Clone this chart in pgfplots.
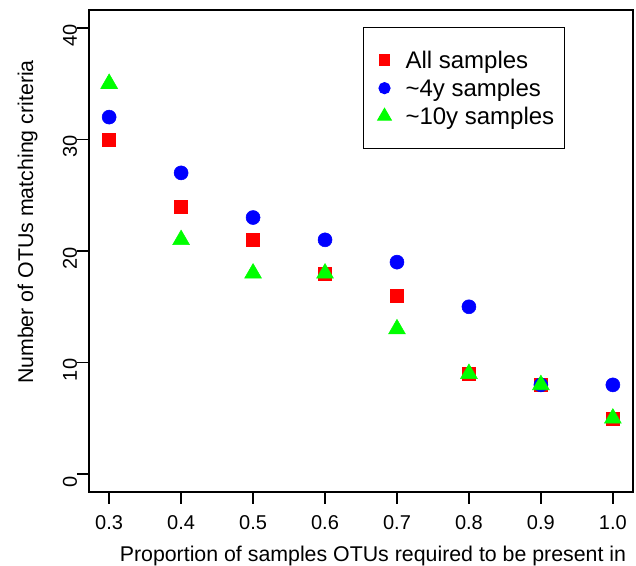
\documentclass[border=0pt]{standalone}
\usepackage{fontspec}
\setmainfont{Liberation Sans}
\usepackage{pgfplots}
\pgfplotsset{compat=1.18}
\usetikzlibrary{calc}
\definecolor{rgreen}{RGB}{0,255,0}
\definecolor{rred}{RGB}{255,0,0}
\definecolor{rblue}{RGB}{0,0,255}
\begin{document}
\begin{tikzpicture}
\begin{axis}[
  name=ax, at={(0,0)}, anchor=south west,
  scale only axis, width=408pt, height=361.5pt,
  xmin=0.272, xmax=1.028, ymin=-1.6, ymax=41.6,
  xtick={0.3,0.4,0.5,0.6,0.7,0.8,0.9,1.0},
  xticklabels={0.3,0.4,0.5,0.6,0.7,0.8,0.9,1.0},
  ytick={0,10,20,30,40}, yticklabels={0,10,20,30,40},
  tick align=outside, major tick length=9pt,
  xtick pos=bottom, ytick pos=left,
  axis line style={line width=1.1pt},
  every tick/.style={black, line width=1.1pt},
  tick label style={font=\fontsize{15}{18}\selectfont},
  yticklabel style={rotate=90, anchor=base, xshift=-5.5pt},
  xticklabel style={anchor=north, yshift=-5pt},
  xlabel={Proportion of samples OTUs required to be present in},
  ylabel={Number of OTUs matching criteria},
  label style={font=\fontsize{16}{19}\selectfont},
  xlabel style={at={(axis description cs:0.522,-0.1444)}, anchor=base},
  ylabel style={at={(axis description cs:-0.1029,0.560)}, anchor=base},
  legend style={at={(0.5037,0.9647)}, anchor=north west, draw=black, line width=0.75pt,
    font=\fontsize{18}{21}\selectfont, inner xsep=7.75pt, inner ysep=14pt,
    row sep=0pt, column sep=7.75pt, cells={anchor=west},
    nodes={inner sep=0pt, text height=16.9pt, text depth=4.1pt}},
  legend image code/.code={\path[draw=none, fill=none] (-8pt,-4pt) rectangle (8pt,4pt);
    \draw[#1, every mark/.append style={scale=0.8}] plot coordinates {(0pt,0pt)};},
]
\addplot[only marks, mark=square*, mark size=4.9pt, color=rred]
  coordinates {(0.3,30) (0.4,24) (0.5,21) (0.6,18) (0.7,16) (0.8,9) (0.9,8) (1.0,5)};
\addplot[only marks, mark=*, mark size=5.25pt, color=rblue]
  coordinates {(0.3,32) (0.4,27) (0.5,23) (0.6,21) (0.7,19) (0.8,15) (0.9,8) (1.0,8)};
\addplot[only marks, mark=triangle*, mark size=7.3pt, color=rgreen]
  coordinates {(0.3,35) (0.4,21) (0.5,18) (0.6,18) (0.7,13) (0.8,9) (0.9,8) (1.0,5)};
\legend{All samples, \textasciitilde4y samples, \textasciitilde10y samples}
\end{axis}
\pgfresetboundingbox
\path[use as bounding box] ($(ax.south west)+(-66.75pt,-55.5pt)$) rectangle ($(ax.north east)+(2.25pt,7.5pt)$);
\end{tikzpicture}
\end{document}
